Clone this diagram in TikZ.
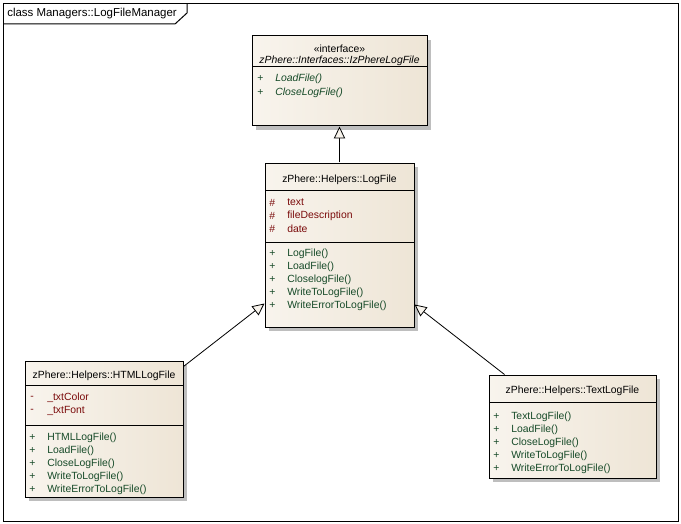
\documentclass[tikz,border=0pt]{standalone}
\usepackage{fontspec}
\setmainfont{Liberation Sans}
\usepackage{xcolor}
\usepackage{tikz}
\usetikzlibrary{arrows.meta,positioning,fit,shadows}
\definecolor{ink}{HTML}{000000}
\definecolor{beigeL}{HTML}{F8F4ED}
\definecolor{beigeR}{HTML}{EEE5D6}
\definecolor{shadowgray}{HTML}{BEBEBE}
\definecolor{attrred}{HTML}{7A0A0A}
\definecolor{opgreen}{HTML}{164A28}
\newcommand{\umlfont}{\fontsize{7.8}{9}\selectfont}
\tikzset{
  >=Latex,
  every node/.style={font=\umlfont,text=ink},
  cls/.style={draw=black,line width=0.75pt,inner sep=0pt,left color=beigeL,right color=beigeR,
    drop shadow={shadow xshift=3pt,shadow yshift=-3pt,fill=shadowgray,opacity=1}},
  clsname/.style={inner sep=0pt,anchor=center,yshift=-1.1pt},
  attr/.style={anchor=west,inner sep=0pt,text=attrred,yshift=-1.1pt},
  oper/.style={anchor=west,inner sep=0pt,text=opgreen,yshift=-1.1pt},
  sep/.style={draw=black,line width=0.75pt},
  gen/.style={-{Triangle[length=9pt,width=8.5pt,fill=beigeL]},line width=0.6pt},
  framebox/.style={draw=black,line width=0.75pt,inner sep=0pt}
}
\begin{document}
\begin{tikzpicture}[x=0.75pt,y=-0.75pt]
  \useasboundingbox[fill=white] (0,0) rectangle (681,524);
  % frame
  \node[framebox,fit={(3,4) (678,521)}] (frame) {};
  \draw[line width=0.75pt] (3,24) -- (175,24) -- (187,13) -- (187,4);
  \node[anchor=west,inner sep=0pt,font=\fontsize{8.6}{10}\selectfont] (title) at (7,14) {class Managers::LogFileManager};

  % interface
  \node[cls,fit={(252,36) (427,126)}] (iface) {};
  \node[clsname] (iface-st) at (339.5,47) {\guillemotleft interface\guillemotright};
  \node[clsname,font=\umlfont\itshape] (iface-nm) at (339.5,59) {zPhere::Interfaces::IzPhereLogFile};
  \draw[sep] (252,67) -- (427,67);
  \foreach \y/\t [count=\i] in {77/LoadFile(),91/CloseLogFile()}{
    \node[oper] (iface-p\i) at (257,\y) {+};
    \node[oper,font=\umlfont\itshape] (iface-o\i) at (275,\y) {\t};
  }

  % base class
  \node[cls,fit={(265,163) (414,327)}] (logfile) {};
  \node[clsname] (logfile-nm) at (339.5,178) {zPhere::Helpers::LogFile};
  \draw[sep] (265,190) -- (414,190);
  \foreach \y/\t [count=\i] in {201/text,214/fileDescription,227/date}{
    \node[attr] (logfile-h\i) at (269,\y) {\#};
    \node[attr] (logfile-a\i) at (287,\y) {\t};
  }
  \draw[sep] (265,242) -- (414,242);
  \foreach \y/\t [count=\i] in {252/LogFile(),265/LoadFile(),278/CloselogFile(),291/WriteToLogFile(),304/WriteErrorToLogFile()}{
    \node[oper] (logfile-p\i) at (269,\y) {+};
    \node[oper] (logfile-o\i) at (287,\y) {\t};
  }

  % html
  \node[cls,fit={(25,361) (183,497)}] (html) {};
  \node[clsname] (html-nm) at (104,374) {zPhere::Helpers::HTMLLogFile};
  \draw[sep] (25,385) -- (183,385);
  \foreach \y/\t [count=\i] in {396/\_txtColor,409/\_txtFont}{
    \node[attr] (html-h\i) at (30,\y) {-};
    \node[attr] (html-a\i) at (47,\y) {\t};
  }
  \draw[sep] (25,425) -- (183,425);
  \foreach \y/\t [count=\i] in {436/HTMLLogFile(),449/LoadFile(),462/CloseLogFile(),475/WriteToLogFile(),488/WriteErrorToLogFile()}{
    \node[oper] (html-p\i) at (29,\y) {+};
    \node[oper] (html-o\i) at (47,\y) {\t};
  }

  % text
  \node[cls,fit={(489,375) (656,478)}] (textlog) {};
  \node[clsname] (textlog-nm) at (572.5,389) {zPhere::Helpers::TextLogFile};
  \draw[sep] (489,402) -- (656,402);
  \foreach \y/\t [count=\i] in {415/TextLogFile(),428/LoadFile(),441/CloseLogFile(),454/WriteToLogFile(),467/WriteErrorToLogFile()}{
    \node[oper] (textlog-p\i) at (493,\y) {+};
    \node[oper] (textlog-o\i) at (511,\y) {\t};
  }

  \draw[gen] (logfile.north) -- (iface.south);
  \draw[gen] ([yshift=-4.5pt]html.north east) -- ([yshift=18pt]logfile.south west);
  \draw[gen] ([xshift=12pt]textlog.north west) -- ([yshift=17.25pt]logfile.south east);
\end{tikzpicture}
\end{document}
